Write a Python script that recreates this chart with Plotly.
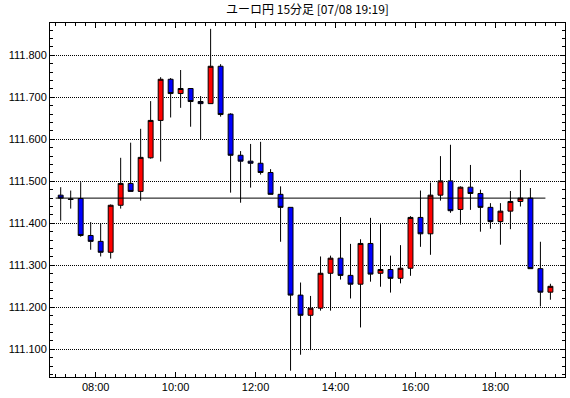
import plotly.graph_objects as go
import pandas as pd

# ---- data ----
bar_start = "2016-07-08 07:07:30"   # centre of the first 15-minute bar (07:00-07:15)
n_bars = 50
open_ = [111.467, 111.458, 111.459, 111.371, 111.357, 111.331, 111.443, 111.495, 111.476, 111.556,
         111.645, 111.743, 111.709, 111.721, 111.690, 111.685, 111.774, 111.660, 111.562, 111.548,
         111.543, 111.521, 111.469, 111.438, 111.229, 111.181, 111.198, 111.281, 111.317, 111.276,
         111.255, 111.352, 111.281, 111.290, 111.269, 111.293, 111.414, 111.375, 111.467, 111.501,
         111.433, 111.486, 111.471, 111.438, 111.404, 111.429, 111.452, 111.460, 111.292, 111.236]
high = [111.486, 111.478, 111.498, 111.403, 111.400, 111.445, 111.556, 111.592, 111.625, 111.691,
        111.748, 111.746, 111.765, 111.721, 111.703, 111.863, 111.779, 111.662, 111.572, 111.589,
        111.594, 111.529, 111.488, 111.438, 111.259, 111.227, 111.321, 111.323, 111.415, 111.351,
        111.362, 111.413, 111.398, 111.323, 111.348, 111.417, 111.478, 111.497, 111.560, 111.587,
        111.488, 111.539, 111.480, 111.448, 111.448, 111.477, 111.527, 111.484, 111.356, 111.256]
low = [111.406, 111.435, 111.368, 111.337, 111.321, 111.316, 111.435, 111.476, 111.454, 111.554,
       111.547, 111.652, 111.675, 111.630, 111.600, 111.685, 111.654, 111.473, 111.449, 111.485,
       111.516, 111.469, 111.356, 111.049, 111.087, 111.098, 111.192, 111.192, 111.266, 111.221,
       111.152, 111.261, 111.249, 111.235, 111.257, 111.275, 111.344, 111.325, 111.454, 111.425,
       111.397, 111.432, 111.380, 111.387, 111.349, 111.386, 111.440, 111.292, 111.202, 111.218]
close = [111.460, 111.457, 111.371, 111.357, 111.331, 111.443, 111.495, 111.476, 111.557, 111.645,
         111.743, 111.709, 111.721, 111.690, 111.685, 111.774, 111.659, 111.562, 111.548, 111.543,
         111.521, 111.469, 111.438, 111.229, 111.181, 111.198, 111.281, 111.317, 111.276, 111.255,
         111.352, 111.279, 111.290, 111.269, 111.293, 111.414, 111.375, 111.467, 111.501, 111.430,
         111.486, 111.471, 111.438, 111.404, 111.429, 111.452, 111.460, 111.292, 111.236, 111.250]
ref_level = 111.46
ref_start = "2016-07-08 07:00"
ref_end = "2016-07-08 19:15"
y_ticks = [111.1, 111.2, 111.3, 111.4, 111.5, 111.6, 111.7, 111.8]
title_text = "ユーロ円 15分足 [07/08 19:19]"

times = pd.date_range(bar_start, periods=n_bars, freq="15min")

fig = go.Figure()
fig.add_trace(go.Scatter(x=[ref_start, ref_end], y=[ref_level, ref_level], mode="lines",
                         line=dict(color="black", width=1), hoverinfo="skip"))
fig.add_trace(go.Candlestick(
    x=times, open=open_, high=high, low=low, close=close,
    increasing=dict(fillcolor="#FF0000", line=dict(color="black", width=1)),
    decreasing=dict(fillcolor="#0000FF", line=dict(color="black", width=1)),
    whiskerwidth=0, opacity=1,
))

fig.update_layout(
    width=570, height=398,
    margin=dict(l=50, r=5, t=23, b=21, autoexpand=False),
    paper_bgcolor="white", plot_bgcolor="white",
    showlegend=False,
    boxgap=0.3,
    title=dict(text=title_text, x=0.5395, xanchor="center", y=0.985, yanchor="top",
               font=dict(family="Noto Sans CJK JP", size=12, color="black")),
    font=dict(family="Liberation Sans", size=11, color="black"),
)
fig.update_xaxes(
    type="date",
    range=["2016-07-08 06:51:27", "2016-07-08 19:44:24"],
    rangeslider=dict(visible=False),
    tickformat="%H:%M", tick0="2016-07-08 00:00", dtick=2 * 3600 * 1000,
    ticks="inside", ticklen=5, tickcolor="black",
    minor=dict(dtick=15 * 60 * 1000, tick0="2016-07-08 00:00", ticks="inside", ticklen=3, tickcolor="black", showgrid=False),
    showline=True, linecolor="black", linewidth=1, mirror="allticks",
    showgrid=False, zeroline=False, automargin=False,
)
fig.update_yaxes(
    range=[111.034, 111.877],
    tickmode="array", tickvals=y_ticks, tickformat=".3f",
    ticks="inside", ticklen=4, tickcolor="black",
    minor=dict(dtick=0.02, tick0=111.0, ticks="inside", ticklen=3, tickcolor="black", showgrid=False),
    showline=True, linecolor="black", linewidth=1, mirror="allticks",
    showgrid=True, gridcolor="black", griddash="1px,1px", gridwidth=1,
    zeroline=False, automargin=False,
)
fig.write_html("out.html", config={"displayModeBar": False},
               post_script="document.body.style.margin='0';")
